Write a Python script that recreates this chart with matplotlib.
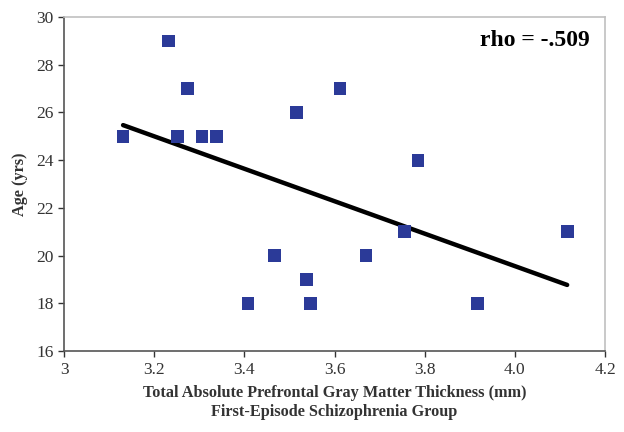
import matplotlib
matplotlib.use("Agg")
import matplotlib.pyplot as plt

thickness = [3.131, 3.231, 3.273, 3.251, 3.306, 3.339, 3.515, 3.612, 3.408,
             3.466, 3.537, 3.546, 3.670, 3.756, 3.785, 3.918, 4.116]
age = [25, 29, 27, 25, 25, 25, 26, 27, 18, 20, 19, 18, 20, 21, 24, 18, 21]

trend_x = [3.131, 4.116]
trend_y = [25.47, 18.77]

x_ticks = [3.0, 3.2, 3.4, 3.6, 3.8, 4.0, 4.2]
x_tick_labels = ["3", "3.2", "3.4", "3.6", "3.8", "4.0", "4.2"]
y_ticks = [16, 18, 20, 22, 24, 26, 28, 30]

plt.rcParams['font.family'] = ['Liberation Serif', 'DejaVu Serif']

fig = plt.figure(figsize=(6.24, 4.32), dpi=100)
ax = fig.add_axes([0.1026, 0.1875, 0.867, 0.773])

ax.plot(trend_x, trend_y, color='black', lw=3.2, solid_capstyle='round', zorder=2)
ax.scatter(thickness, age, marker='s', s=85, color='#2B3A98', edgecolors='none', zorder=3)

ax.set_xlim(3.0, 4.2)
ax.set_ylim(16, 30)
ax.set_xticks(x_ticks)
ax.set_xticklabels(x_tick_labels)
ax.set_yticks(y_ticks)
ax.tick_params(labelsize=12.5, colors='#333333', length=4, width=1)
ax.tick_params(axis='x', pad=4)
for s in ['left', 'bottom']:
    ax.spines[s].set_color('#555555')
    ax.spines[s].set_linewidth(1.2)
for s in ['top', 'right']:
    ax.spines[s].set_color('#c0c0c0')
    ax.spines[s].set_linewidth(1.2)

ax.set_xlabel("Total Absolute Prefrontal Gray Matter Thickness (mm)\nFirst-Episode Schizophrenia Group",
              fontsize=11.7, fontweight='bold', color='#333333', labelpad=5, linespacing=1.25)
ax.set_ylabel("Age (yrs)", fontsize=11.7, fontweight='bold', color='#333333', labelpad=6)

ax.text(0.972, 0.93, "rho = -.509", transform=ax.transAxes, ha='right', va='center',
        fontsize=17, fontweight='bold', color='black')

fig.savefig("out.png", dpi=100)
